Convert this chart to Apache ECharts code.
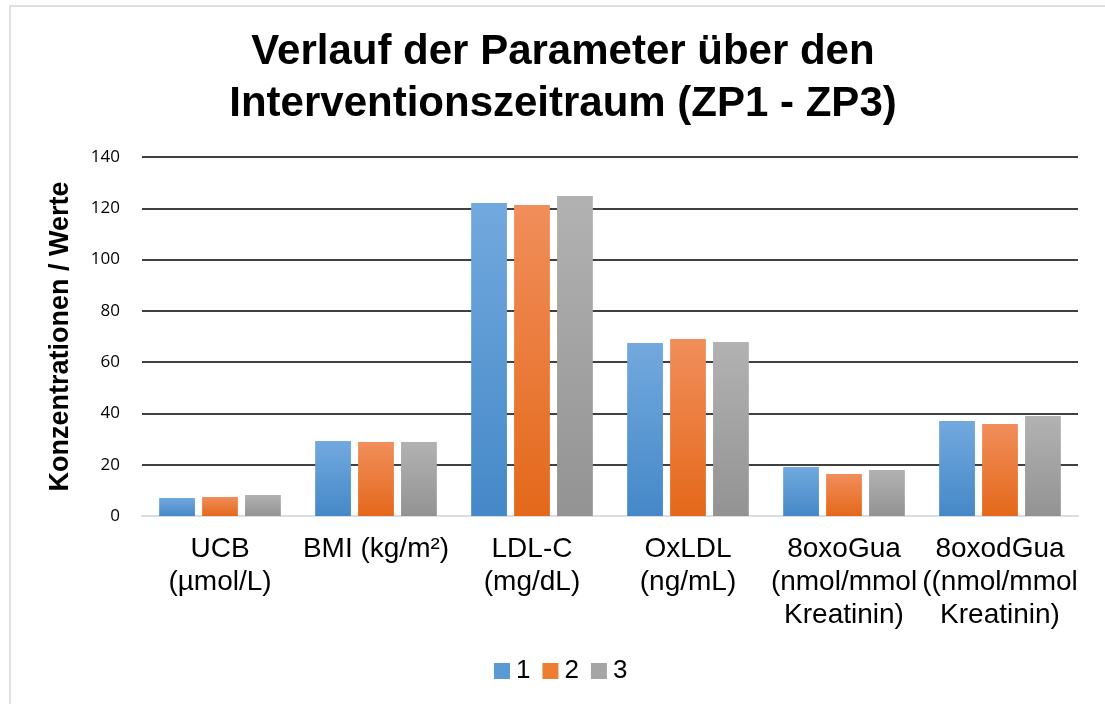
<!DOCTYPE html>
<html>
<head>
<meta charset="utf-8">
<script src="https://cdn.jsdelivr.net/npm/echarts@6/dist/echarts.min.js"></script>
<style>
  html, body { margin: 0; padding: 0; background: #fff; }
  #frame {
    position: absolute; left: 9px; top: 5px; width: 1120px; height: 720px;
    border-left: 2px solid #dde1e6; border-top: 2px solid #dde1e6;
  }
  #chart { position: absolute; left: 0; top: 0; width: 1105px; height: 704px; }
</style>
</head>
<body>
<div id="frame"></div>
<div id="chart"></div>
<script>
const categories = [
  "UCB\n(µmol/L)",
  "BMI (kg/m²)",
  "LDL-C\n(mg/dL)",
  "OxLDL\n(ng/mL)",
  "8oxoGua\n(nmol/mmol\nKreatinin)",
  "8oxodGua\n((nmol/mmol\nKreatinin)",
];
const seriesNames = ["1", "2", "3"];
const zp1 = [7.0, 29.2, 122.1, 67.5, 19.1, 37.0];
const zp2 = [7.4, 28.9, 121.3, 69.0, 16.4, 35.9];
const zp3 = [8.2, 28.9, 124.8, 67.9, 17.9, 39.0];
const yTicks = [0, 20, 40, 60, 80, 100, 120, 140];

function grad(top, bottom) {
  return new echarts.graphic.LinearGradient(0, 0, 0, 1, [
    { offset: 0, color: top },
    { offset: 1, color: bottom },
  ]);
}

const chart = echarts.init(document.getElementById("chart"));
const barColors = [
  grad("#72a9de", "#4588c8"),
  grad("#f18e5b", "#e4681a"),
  grad("#b2b2b2", "#939393"),
];
const legendColors = ["#5b9bd5", "#ed7d31", "#a5a5a5"];

const option = {
  animation: false,
  textStyle: { fontFamily: "Liberation Sans, Arial, sans-serif" },
  title: {
    text: "Verlauf der Parameter über den\nInterventionszeitraum (ZP1 - ZP3)",
    left: 558,
    top: 21,
    textAlign: "center",
    textStyle: {
      fontSize: 42,
      fontWeight: "bold",
      color: "#000",
      lineHeight: 52,
      fontFamily: "Liberation Sans, Arial, sans-serif",
    },
  },
  legend: {
    data: seriesNames.map((n, i) => ({ name: n, itemStyle: { color: legendColors[i] } })),
    top: 653,
    left: 489,
    icon: "rect",
    itemWidth: 16,
    itemHeight: 16,
    itemGap: 12,
    textStyle: { fontSize: 26, color: "#000", padding: [0, 0, 0, 1] },
  },
  grid: { left: 142, right: 27, top: 157, bottom: 188 },
  xAxis: {
    type: "category",
    data: categories,
    axisLine: { lineStyle: { color: "#d9dde2", width: 2 } },
    axisTick: { show: false },
    axisLabel: {
      fontSize: 28,
      color: "#000",
      lineHeight: 33,
      margin: 17,
      interval: 0,
    },
  },
  yAxis: {
    type: "value",
    min: yTicks[0],
    max: yTicks[yTicks.length - 1],
    interval: 20,
    name: "Konzentrationen / Werte",
    nameLocation: "middle",
    nameGap: 68,
    nameTextStyle: { fontSize: 27, fontWeight: "bold", color: "#000" },
    axisLine: { show: false },
    axisTick: { show: false },
    axisLabel: { fontSize: 17, color: "#000", margin: 22, fontFamily: "Open Sans, sans-serif" },
    splitLine: { lineStyle: { color: "#000", width: 1.5 } },
  },
  series: [zp1, zp2, zp3].map((d, i) => ({
    name: seriesNames[i],
    type: "bar",
    data: d,
    barGap: "20%",
    barCategoryGap: "22%",
    itemStyle: { color: barColors[i] },
  })),
};
chart.setOption(option);
</script>
</body>
</html>
